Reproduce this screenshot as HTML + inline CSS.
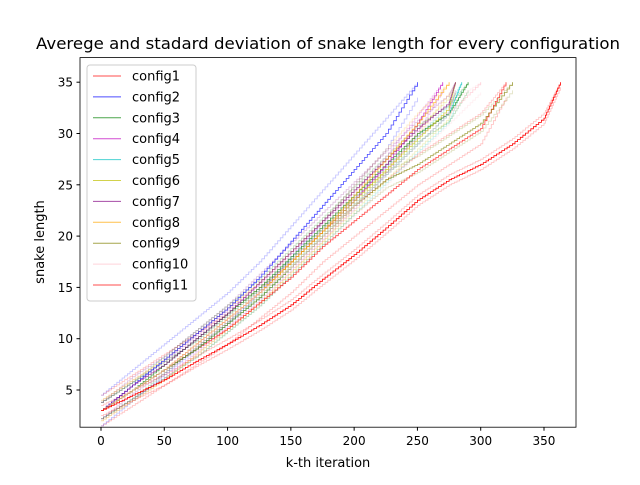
<!DOCTYPE html>
<html><head><meta charset="utf-8"><style>
body{margin:0;background:#fff}
svg{font-family:"DejaVu Sans","Liberation Sans",sans-serif}
</style></head><body>
<svg id="c" width="640" height="480" viewBox="0 0 640 480">
<rect width="640" height="480" fill="#fff"/>
<text x="328" y="49" font-size="16" text-anchor="middle" textLength="584" lengthAdjust="spacingAndGlyphs">Averege and stadard deviation of snake length for every configuration</text>
<g id="plot"></g>
<rect x="80" y="57.6" width="496" height="369.6" fill="none" stroke="#000" stroke-width="0.8"/>
<g id="ticks"></g>
<text x="328" y="467" font-size="13" text-anchor="middle">k-th iteration</text>
<text transform="translate(44,242) rotate(-90)" font-size="13" text-anchor="middle">snake length</text>
<g id="legend"></g>
</svg>
<script>
const iters=[0,25,50,75,100,125,150,175,200,225,250,275,300,325,350];
const names=["config1","config2","config3","config4","config5","config6","config7","config8","config9","config10","config11"];
const colors=["#ff0000","#0000ff","#008000","#bf00bf","#00bfbf","#bfbf00","#800080","#ffa500","#808000","#ffc0cb","#ff0000"];
const ends=[320,250,290,270,285,280,280,275,325,300,363];
const means=[
[3,5,7,9,11,13.5,16,19,21.5,24,26.5,28.5,30.5,35],
[3,5.5,8,10.5,13,16,19.5,23,26.5,30,35],
[3,5,7.5,10,12.5,15,18,21,24,27,30,32,35],
[3,5,7,9.5,12,14.5,17.5,20.5,23.5,27,31,35],
[3,5,7,9,11.5,14,17,20,23,26,29,32,35],
[3,5,7,9.5,12,14.5,17.5,20.5,23.5,26.5,29.5,32.5,35],
[3,5.5,7.5,10,12.5,15.5,18.5,21.5,24.5,27.5,30.5,33,35],
[3,5,7,9.5,12,14.5,17.5,20.5,24,27.5,31,35],
[3,5,7,9,11.5,14,17,20,23,25.5,27,29,31,35],
[3,5,7,9.5,12,14.5,17,20,23,26,29,32,35],
[3,4.5,6,7.8,9.5,11.3,13.3,15.8,18.2,20.8,23.5,25.5,27,29,31.5,35]
];
const stds=[1.5,1.5,0.8,0.8,0.8,1,0.8,1,0.8,1,0.5];
const xTicks=[0,50,100,150,200,250,300,350];
const yTicks=[5,10,15,20,25,30,35];
const X=v=>101+v*1.2657, Y=v=>390-(v-5)*10.26;
const NS="http://www.w3.org/2000/svg";
const plot=document.getElementById('plot');
function pathFor(vals,end,off){
  const xs=vals.map((v,j)=>j===vals.length-1?end:iters[j]);
  let d="";
  for(let j=0;j<vals.length;j++){
    const v=Math.min(35,vals[j]+off);
    if(j===0){d+="M"+X(xs[0])+","+Y(v);continue;}
    const pv=Math.min(35,vals[j-1]+off);
    const n=12;
    for(let s=1;s<=n;s++){
      const xi=xs[j-1]+(xs[j]-xs[j-1])*s/n;
      const yi=pv+(v-pv)*s/n;
      d+="H"+X(xi).toFixed(1)+"V"+Y(yi).toFixed(1);
    }
  }
  return d;
}
means.forEach((m,i)=>{
  [stds[i],-stds[i]].forEach(o=>{
    const p=document.createElementNS(NS,'path');
    
    
    p.setAttribute('d',pathFor(m,ends[i],o));p.setAttribute('fill','none');
    p.setAttribute('stroke',colors[i]);p.setAttribute('stroke-opacity','0.25');p.setAttribute('stroke-width','0.8');
    plot.appendChild(p);
  });
});
means.forEach((m,i)=>{
  const p=document.createElementNS(NS,'path');
  
  
  p.setAttribute('d',pathFor(m,ends[i],0));p.setAttribute('fill','none');
  p.setAttribute('stroke',colors[i]);p.setAttribute('stroke-opacity',i===10?'1':'0.7');p.setAttribute('stroke-width','0.8');
  plot.appendChild(p);
});
const tk=document.getElementById('ticks');
xTicks.forEach(t=>{
  const l=document.createElementNS(NS,'line');
  
  
  l.setAttribute('x1',X(t));l.setAttribute('x2',X(t));l.setAttribute('y1',427.2);l.setAttribute('y2',430.7);l.setAttribute('stroke','#000');
  tk.appendChild(l);
  const tx=document.createElementNS(NS,'text');
  
  
  tx.setAttribute('x',X(t));tx.setAttribute('y',445);tx.setAttribute('font-size','12');tx.setAttribute('text-anchor','middle');
  tx.textContent=t;tk.appendChild(tx);
});
yTicks.forEach(t=>{
  const l=document.createElementNS(NS,'line');
  
  
  l.setAttribute('x1',76.5);l.setAttribute('x2',80);l.setAttribute('y1',Y(t));l.setAttribute('y2',Y(t));l.setAttribute('stroke','#000');
  tk.appendChild(l);
  const tx=document.createElementNS(NS,'text');
  
  
  tx.setAttribute('x',73);tx.setAttribute('y',Y(t)+4.5);tx.setAttribute('font-size','12');tx.setAttribute('text-anchor','end');
  tx.textContent=t;tk.appendChild(tx);
});
const lg=document.getElementById('legend');
const box=document.createElementNS(NS,'rect');


box.setAttribute('x',87);box.setAttribute('y',65);box.setAttribute('width',109);box.setAttribute('height',236);box.setAttribute('rx',3);
box.setAttribute('fill','#fff');box.setAttribute('fill-opacity','0.8');box.setAttribute('stroke','#ccc');
lg.appendChild(box);
names.forEach((n,i)=>{
  const y=76+i*20.9;
  const l=document.createElementNS(NS,'line');
  
  
  l.setAttribute('x1',93);l.setAttribute('x2',121);l.setAttribute('y1',y);l.setAttribute('y2',y);
  l.setAttribute('stroke',colors[i]);l.setAttribute('stroke-opacity','0.7');
  lg.appendChild(l);
  const t=document.createElementNS(NS,'text');
  
  
  t.setAttribute('x',132);t.setAttribute('y',y+4.5);t.setAttribute('font-size','13');
  t.textContent=n;lg.appendChild(t);
});
</script>
</body></html>
